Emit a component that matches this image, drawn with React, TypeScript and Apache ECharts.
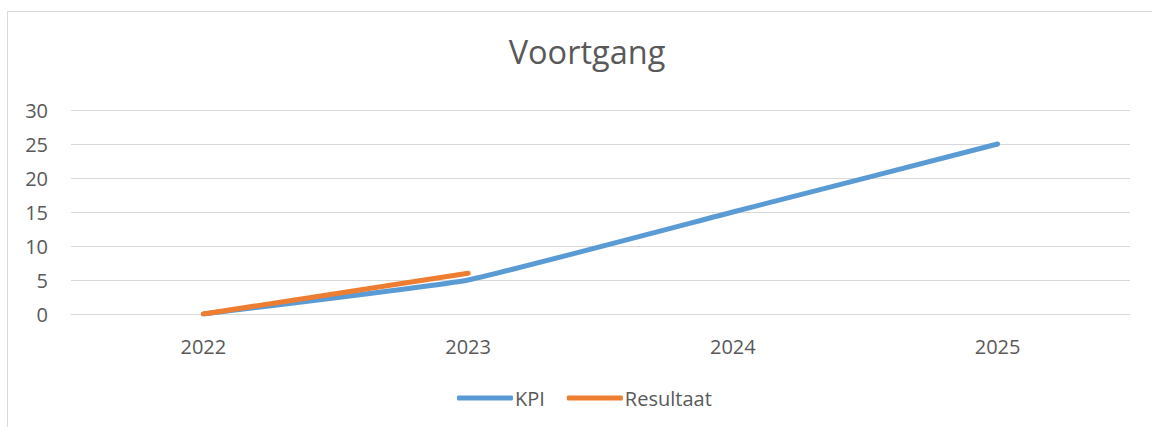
import React, { useEffect, useRef } from "react";
import * as echarts from "echarts";

const categories = ["2022", "2023", "2024", "2025"];
const kpiValues = [0, 5, 15, 25];
const resultaatValues = [0, 6];
const yTicks = { min: 0, max: 30, interval: 5 };
const titleText = "Voortgang";
const seriesNames = ["KPI", "Resultaat"];

export default function App() {
  const ref = useRef<HTMLDivElement>(null);
  useEffect(() => {
    if (!ref.current) return;
    const chart = echarts.init(ref.current, null, { renderer: "svg" });
    const font = "'Open Sans', sans-serif";
    chart.setOption({
      animation: false,
      backgroundColor: "#ffffff",
      textStyle: { fontFamily: font },
      title: {
        text: titleText,
        left: 582,
        top: 30,
        textAlign: "center",
        textStyle: { fontFamily: font, fontSize: 32.5, fontWeight: "normal", color: "#595959" },
      },
      graphic: [
        {
          type: "rect",
          shape: { x: 7.5, y: 11.5, width: 1300, height: 600 },
          style: { fill: "none", stroke: "#D9D9D9", lineWidth: 1 },
          silent: true,
          z: -1,
        },
      ],
      legend: {
        left: 457,
        top: 388,
        padding: 0,
        itemWidth: 56,
        itemHeight: 5,
        itemGap: 22,
        icon: "roundRect",
        textStyle: { fontFamily: font, fontSize: 20, color: "#595959", padding: [0, 0, 0, -3] },
        data: seriesNames,
      },
      grid: { left: 71, right: 22, top: 110, bottom: 113, containLabel: false },
      xAxis: {
        type: "category",
        data: categories,
        boundaryGap: true,
        axisLine: { show: true, lineStyle: { color: "#D9D9D9", width: 1 } },
        axisTick: { show: false },
        axisLabel: { color: "#595959", fontSize: 20, margin: 22, fontFamily: font },
        splitLine: { show: false },
      },
      yAxis: {
        type: "value",
        min: yTicks.min,
        max: yTicks.max,
        interval: yTicks.interval,
        axisLine: { show: false },
        axisTick: { show: false },
        axisLabel: { color: "#595959", fontSize: 20, margin: 23, fontFamily: font },
        splitLine: { show: true, lineStyle: { color: "#D9D9D9", width: 1 } },
      },
      series: [
        {
          name: seriesNames[0],
          type: "line",
          data: kpiValues,
          smooth: 0.1,
          showSymbol: false,
          symbol: "none",
          color: "#5B9BD5",
          lineStyle: { width: 5, color: "#5B9BD5", cap: "round", join: "round" },
          itemStyle: { color: "#5B9BD5" },
        },
        {
          name: seriesNames[1],
          type: "line",
          data: resultaatValues,
          smooth: 0.1,
          showSymbol: false,
          symbol: "none",
          color: "#ED7D31",
          lineStyle: { width: 5, color: "#ED7D31", cap: "round", join: "round" },
          itemStyle: { color: "#ED7D31" },
        },
      ],
    });
    return () => chart.dispose();
  }, []);
  return (
    <div
      ref={ref}
      style={{ position: "absolute", left: 0, top: 0, width: 1152, height: 427 }}
    />
  );
}
